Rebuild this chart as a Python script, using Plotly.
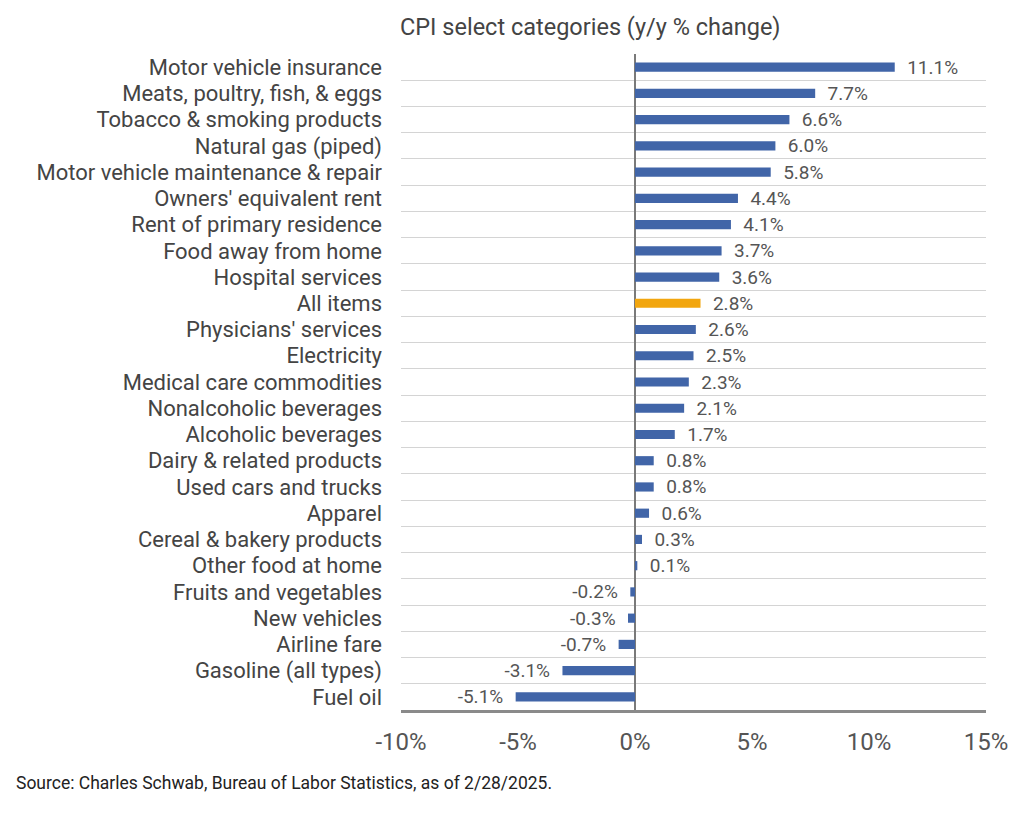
import plotly.graph_objects as go

CATEGORIES = [
    "Motor vehicle insurance", "Meats, poultry, fish, & eggs", "Tobacco & smoking products",
    "Natural gas (piped)", "Motor vehicle maintenance & repair", "Owners' equivalent rent",
    "Rent of primary residence", "Food away from home", "Hospital services", "All items",
    "Physicians' services", "Electricity", "Medical care commodities", "Nonalcoholic beverages",
    "Alcoholic beverages", "Dairy & related products", "Used cars and trucks", "Apparel",
    "Cereal & bakery products", "Other food at home", "Fruits and vegetables", "New vehicles",
    "Airline fare", "Gasoline (all types)", "Fuel oil",
]
VALUES = [11.1, 7.7, 6.6, 6.0, 5.8, 4.4, 4.1, 3.7, 3.6, 2.8, 2.6, 2.5, 2.3, 2.1, 1.7,
          0.8, 0.8, 0.6, 0.3, 0.1, -0.2, -0.3, -0.7, -3.1, -5.1]
HIGHLIGHT = "All items"
TICK_VALS = [-10, -5, 0, 5, 10, 15]
TICK_TEXT = ["-10%", "-5%", "0%", "5%", "10%", "15%"]

BLUE = "#4165A8"
ORANGE = "#F2A60F"
FONT = "Roboto, sans-serif"

# plot box in figure pixels (page adds an 8px body margin)
L, R, T, B = 393, 46, 46, 116
PW, PH = 1024 - L - R, 818 - T - B

colors = [ORANGE if c == HIGHLIGHT else BLUE for c in CATEGORIES]
# pad labels away from the bar end with non-breaking spaces
PAD = "\u00a0\u00a0"
labels = [PAD + f"{v:.1f}%" if v >= 0 else f"{v:.1f}%" + PAD for v in VALUES]

fig = go.Figure(go.Bar(
    x=VALUES, y=CATEGORIES, orientation="h",
    marker=dict(color=colors, line=dict(width=0)),
    width=0.35,
    text=labels, textposition="outside", cliponaxis=False, constraintext="none",
    textfont=dict(family=FONT, size=19, color="#555555"),
))

fig.update_layout(
    width=1024, height=818,
    paper_bgcolor="white", plot_bgcolor="white",
    margin=dict(l=L, r=R, t=T, b=B),
    font=dict(family=FONT, color="#444444"),
    showlegend=False,
    title=dict(text="CPI select categories (y/y % change)", x=392 / 1024, xanchor="left",
               y=1 - 19 / 818, yanchor="middle",
               font=dict(family=FONT, size=23.5, color="#444444")),
    xaxis=dict(range=[-10, 15], tickvals=TICK_VALS, ticktext=TICK_TEXT,
               showgrid=False, zeroline=True, zerolinecolor="#7a7a7a", zerolinewidth=2,
               showline=True, linecolor="#8a8a8a", linewidth=3,
               tickfont=dict(family=FONT, size=24, color="#555555"), ticks="",
               ticklabelstandoff=8),
    yaxis=dict(type="category", categoryorder="array", categoryarray=CATEGORIES,
               autorange="reversed", tickson="boundaries", showgrid=True,
               gridcolor="#d4d4d4", gridwidth=1, ticks="", ticklabelstandoff=18,
               tickfont=dict(family=FONT, size=22, color="#444444")),
    annotations=[dict(text="Source: Charles Schwab, Bureau of Labor Statistics, as of 2/28/2025.",
                      xref="paper", yref="paper", x=(6 - L) / PW, y=-73 / PH,
                      xanchor="left", yanchor="middle", showarrow=False,
                      font=dict(family=FONT, size=17.5, color="#222222"))],
)

fig.write_html("out.html")
